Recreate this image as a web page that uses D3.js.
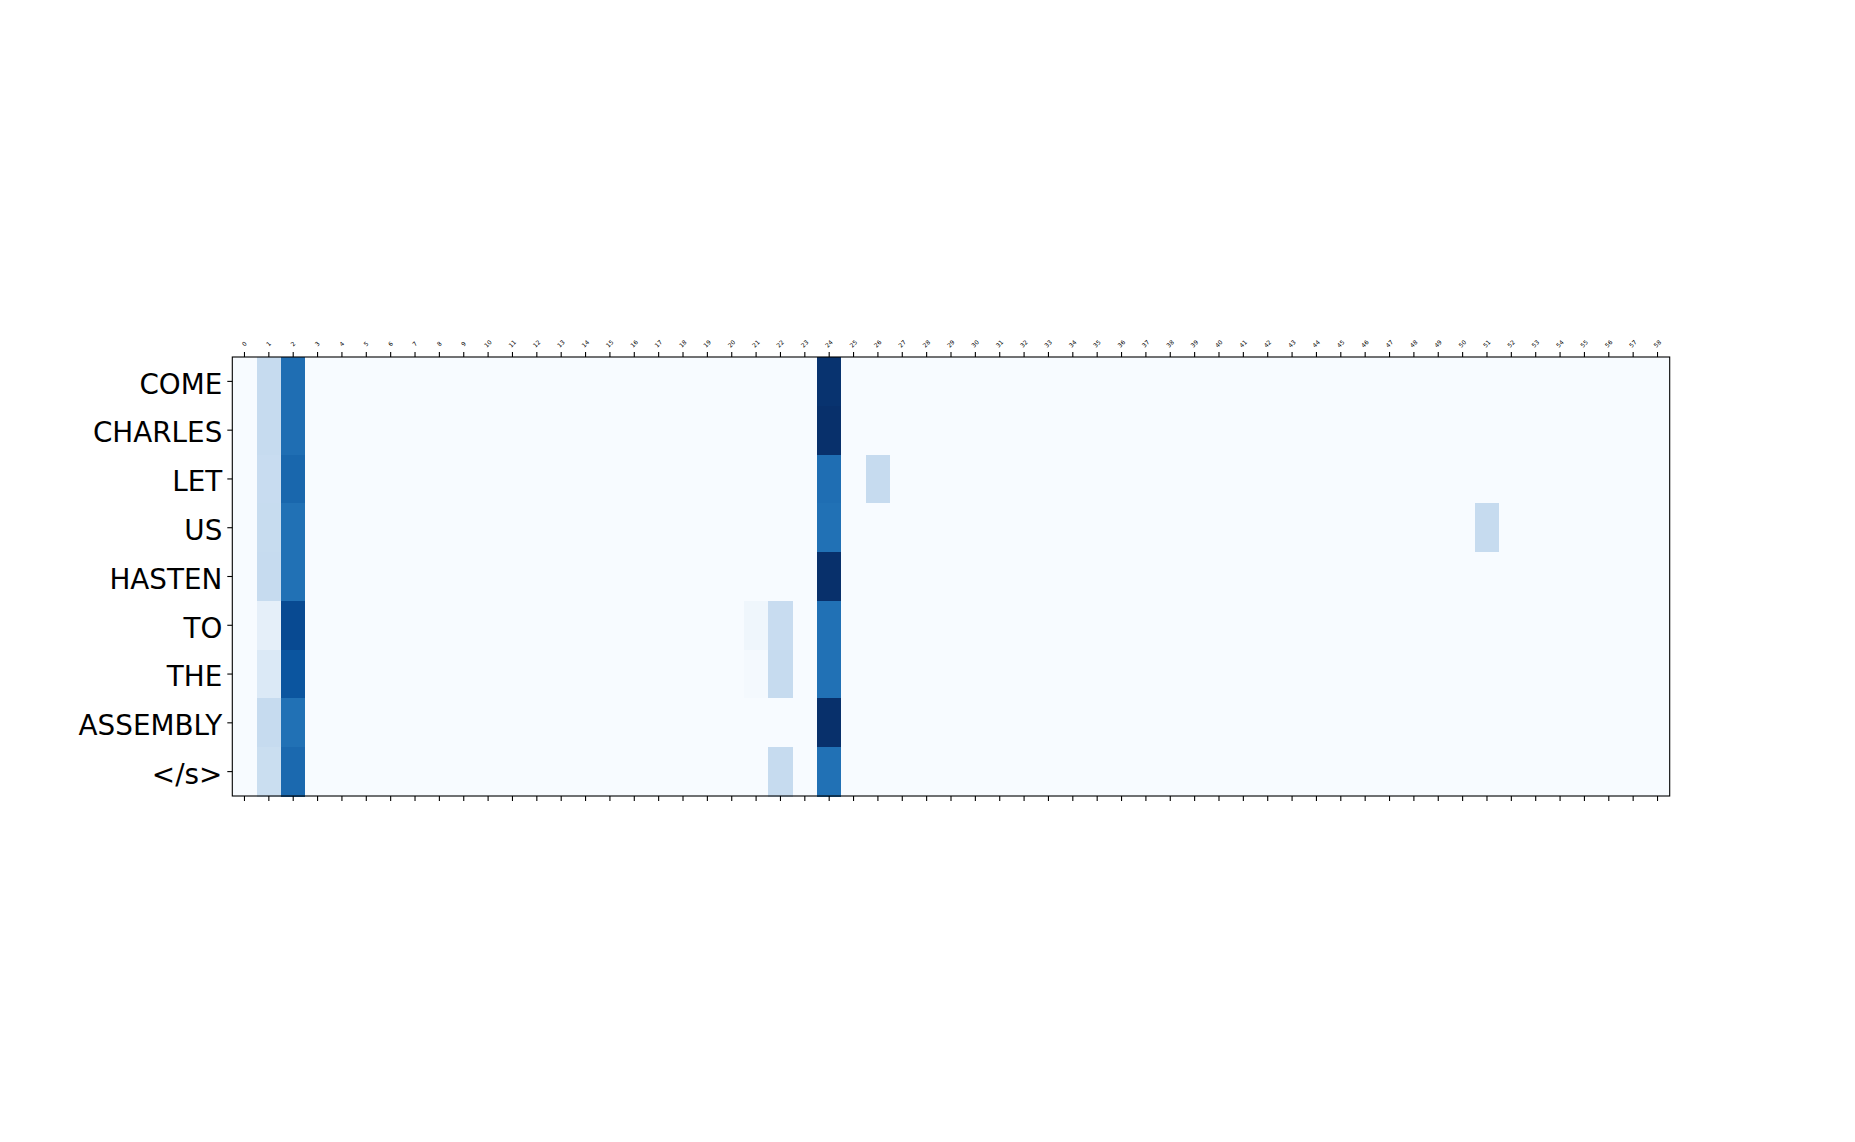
<!DOCTYPE html>
<html><head><meta charset="utf-8">
<script src="https://cdn.jsdelivr.net/npm/d3@7"></script>
<style>body{margin:0;background:#fff}svg{display:block}</style></head>
<body><svg id="c" width="1855" height="1142"></svg>
<script>
// ---- data ----
const rowLabels = ["COME","CHARLES","LET","US","HASTEN","TO","THE","ASSEMBLY","</s>"];
const colLabels = d3.range(59).map(String);
// normalized attention weights (0..1 colormap units)
const col1Values  = [0.25,0.25,0.24,0.245,0.25,0.09,0.14,0.25,0.23];
const col2Values  = [0.76,0.76,0.79,0.75,0.75,0.90,0.86,0.75,0.78];
const col24Values = [0.99,1.00,0.76,0.75,1.00,0.75,0.75,1.00,0.75];
const extraRows = ["TO","THE","TO","THE","</s>","LET","US"];
const extraCols = [21,21,22,22,22,26,51];
const extraVals = [0.04,0.015,0.24,0.25,0.25,0.25,0.25];

// ---- build cells ----
const cells = [];
rowLabels.forEach((r,i)=>{
  colLabels.forEach((c,j)=>{
    let v = 0;
    if (j===1) v = col1Values[i];
    if (j===2) v = col2Values[i];
    if (j===24) v = col24Values[i];
    cells.push({row:r,col:c,v});
  });
});
extraRows.forEach((r,k)=>{
  const cell = cells.find(d=>d.row===r && d.col===String(extraCols[k]));
  cell.v = extraVals[k];
});

const bluesStops = ["#f7fbff","#deebf7","#c6dbef","#9ecae1","#6baed6","#4292c6","#2171b5","#08519c","#08306b"];
const color = d3.scaleLinear().domain(d3.range(9).map(i=>i/8)).range(bluesStops).interpolate(d3.interpolateRgb).clamp(true);

const svg = d3.select("#c");
const L=232.3, R=1669.7, T=357, B=796;
const x = d3.scaleBand().domain(colLabels).range([L,R]);
const y = d3.scaleBand().domain(rowLabels).range([T,B]);

svg.append("g").attr("shape-rendering","crispEdges").selectAll("rect").data(cells).join("rect")
  .attr("x",d=>x(d.col)).attr("y",d=>y(d.row))
  .attr("width",x.bandwidth()+0.5).attr("height",y.bandwidth()+0.5)
  .attr("fill",d=>color(d.v));

svg.append("rect").attr("x",L).attr("y",T).attr("width",R-L).attr("height",B-T)
  .attr("fill","none").attr("stroke","#000").attr("stroke-width",1.1);

const font = "DejaVu Sans, sans-serif";
// top axis
const gTop = svg.append("g").attr("transform",`translate(0,${T})`)
  .call(d3.axisTop(x).tickSize(5).tickSizeOuter(0).tickPadding(2));
gTop.select(".domain").remove();
gTop.selectAll(".tick line").attr("stroke","#000").attr("stroke-width",1.1);
gTop.selectAll(".tick text")
  .attr("font-family",font).attr("font-size",6).attr("fill","#000")
  .attr("text-anchor","middle").attr("y",-13).attr("dy","0.32em")
  .attr("transform","rotate(-45,0,-13)");

// bottom axis (ticks only)
const gBot = svg.append("g").attr("transform",`translate(0,${B})`)
  .call(d3.axisBottom(x).tickSize(5).tickSizeOuter(0).tickFormat(""));
gBot.select(".domain").remove();
gBot.selectAll(".tick line").attr("stroke","#000").attr("stroke-width",1.1);

// left axis
const gLeft = svg.append("g").attr("transform",`translate(${L},0)`)
  .call(d3.axisLeft(y).tickSize(5).tickSizeOuter(0).tickPadding(5));
gLeft.select(".domain").remove();
gLeft.selectAll(".tick line").attr("stroke","#000").attr("stroke-width",1.1);
gLeft.selectAll(".tick text").attr("font-family",font).attr("font-size",27.8).attr("fill","#000").attr("dy","0.44em");
</script></body></html>
